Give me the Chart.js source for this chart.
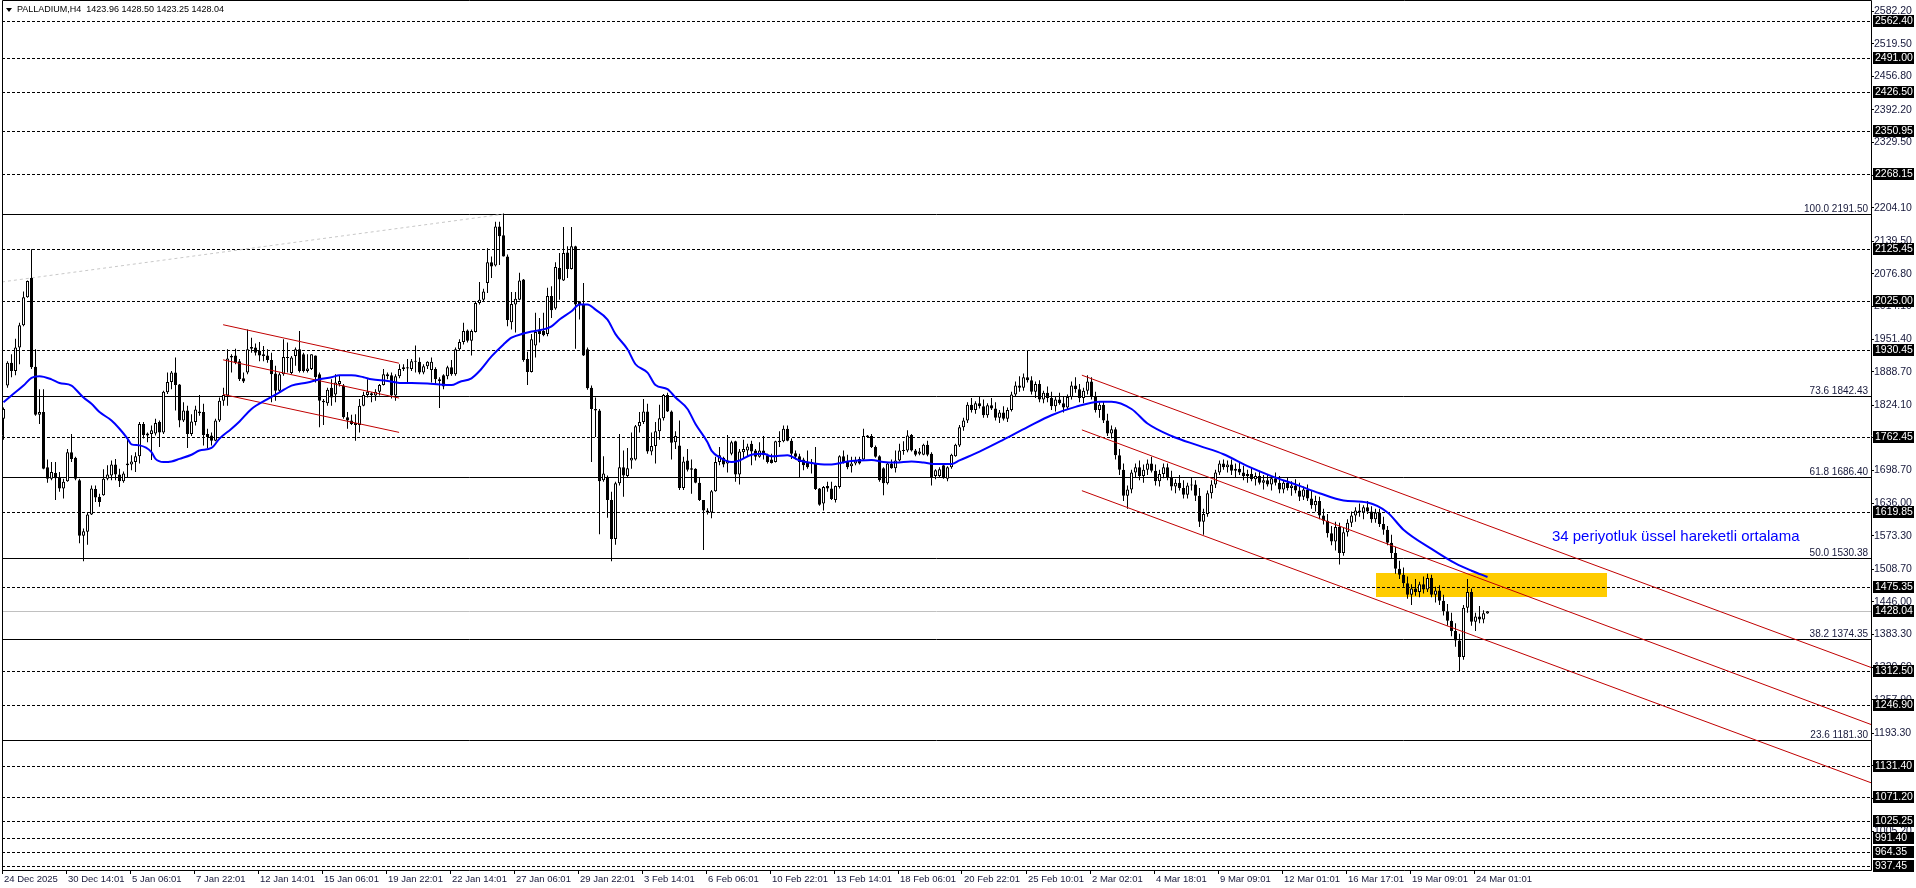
<!DOCTYPE html>
<html><head><meta charset="utf-8">
<script src="https://cdn.jsdelivr.net/npm/chart.js@4.4.1/dist/chart.umd.min.js"></script>
<style>html,body{margin:0;padding:0;background:#fff;overflow:hidden}canvas{display:block}</style>
</head><body>
<canvas id="c" width="1916" height="888"></canvas>
<script>
const title = 'PALLADIUM,H4  1423.96 1428.50 1423.25 1428.04';
const opens = [
1798,1862,1906,1890,1935,1978,2032,2069,1898,1806,
1811,1705,1683,1694,1686,1664,1678,1734,1723,1680,
1573,1581,1614,1663,1648,1651,1683,1689,1710,1691,
1678,1709,1710,1715,1726,1788,1766,1769,1770,1792,
1772,1849,1869,1887,1864,1795,1814,1769,1792,1812,
1811,1769,1766,1756,1795,1833,1843,1919,1920,1909,
1876,1887,1936,1935,1929,1919,1920,1911,1885,1852,
1884,1917,1886,1919,1932,1922,1890,1894,1920,1884,
1833,1828,1858,1845,1865,1862,1801,1795,1790,1786,
1823,1844,1847,1843,1850,1863,1884,1882,1843,1880,
1894,1895,1894,1908,1908,1887,1899,1892,1894,1871,
1882,1880,1897,1884,1932,1946,1968,1948,1965,2021,
2027,2059,2099,2093,2168,2151,2110,1984,2018,2027,
2066,1913,1888,1939,1970,1967,1961,2034,2010,2088,
2064,2118,2086,2130,2024,2018,1932,1858,1817,1814,
1680,1686,1642,1567,1674,1705,1688,1718,1720,1784,
1792,1812,1735,1746,1774,1799,1844,1812,1753,1747,
1665,1718,1700,1702,1675,1642,1622,1618,1659,1715,
1723,1712,1731,1755,1691,1734,1737,1750,1737,1725,
1737,1728,1720,1715,1753,1755,1779,1756,1732,1726,
1720,1715,1712,1712,1664,1635,1669,1664,1642,1667,
1726,1715,1707,1712,1721,1720,1766,1765,1744,1726,
1703,1674,1712,1703,1718,1736,1737,1767,1737,1731,
1729,1748,1731,1688,1688,1709,1683,1705,1726,1747,
1782,1795,1825,1815,1828,1822,1805,1824,1818,1800,
1810,1798,1815,1845,1862,1858,1878,1872,1850,1865,
1835,1848,1838,1822,1835,1828,1820,1840,1862,1855,
1838,1852,1870,1840,1815,1825,1795,1770,1778,1728,
1700,1650,1662,1695,1705,1688,1700,1712,1698,1678,
1692,1705,1685,1668,1675,1665,1652,1670,1672,1650,
1600,1615,1655,1672,1695,1712,1705,1710,1698,1702,
1695,1688,1692,1682,1688,1675,1680,1672,1684,1675,
1662,1675,1665,1670,1660,1648,1662,1645,1632,1640,
1612,1602,1578,1562,1590,1540,1580,1598,1612,1622,
1618,1628,1620,1605,1618,1596,1585,1560,1540,1510,
1498,1482,1460,1472,1465,1480,1470,1492,1460,1468,
1448,1428,1410,1390,1372,1340,1435,1465,1408,1418,
1412,1423.96];
const highs = [
1820,1909,1922,1952,1983,2043,2064,2124,1932,1855,
1855,1720,1715,1715,1696,1683,1740,1769,1725,1683,
1587,1619,1670,1670,1654,1701,1709,1718,1721,1702,
1697,1763,1728,1734,1792,1792,1772,1785,1798,1795,
1852,1887,1890,1916,1865,1830,1823,1807,1823,1844,
1827,1779,1772,1798,1839,1858,1932,1922,1933,1913,
1887,1970,1954,1943,1946,1938,1932,1925,1900,1887,
1951,1945,1919,1935,1967,1925,1922,1922,1920,1887,
1836,1858,1874,1884,1881,1865,1811,1806,1807,1836,
1850,1874,1849,1855,1865,1894,1887,1887,1884,1903,
1903,1913,1913,1939,1916,1903,1909,1916,1897,1878,
1884,1900,1911,1935,1951,1983,1970,1970,2024,2061,
2048,2126,2110,2177,2177,2193,2114,2042,2042,2079,
2067,1927,1961,2002,1992,2002,2050,2053,2099,2117,
2167,2130,2167,2131,2024,2059,1935,1862,1839,1817,
1726,1689,1658,1677,1769,1737,1742,1772,1786,1811,
1836,1827,1772,1792,1825,1846,1848,1814,1774,1795,
1725,1740,1720,1703,1686,1642,1626,1661,1725,1744,
1725,1767,1756,1756,1740,1758,1750,1756,1740,1753,
1765,1731,1731,1756,1774,1785,1785,1760,1737,1731,
1723,1737,1721,1744,1665,1669,1677,1677,1670,1728,
1737,1729,1725,1725,1725,1779,1767,1769,1747,1728,
1705,1715,1720,1737,1750,1755,1776,1769,1740,1742,
1750,1756,1734,1701,1705,1710,1707,1731,1750,1786,
1800,1830,1838,1832,1840,1835,1828,1838,1830,1815,
1822,1820,1850,1870,1880,1885,1930,1880,1870,1872,
1852,1860,1850,1840,1848,1842,1845,1870,1878,1865,
1858,1882,1878,1850,1830,1832,1808,1785,1782,1740,
1712,1670,1700,1712,1718,1710,1720,1725,1710,1700,
1712,1712,1698,1682,1690,1680,1675,1685,1680,1665,
1625,1660,1680,1700,1718,1720,1718,1720,1712,1715,
1708,1700,1705,1695,1698,1690,1692,1688,1695,1688,
1680,1685,1678,1682,1675,1668,1672,1660,1650,1648,
1625,1615,1592,1600,1598,1588,1605,1620,1628,1635,
1632,1640,1630,1625,1625,1610,1592,1575,1552,1525,
1512,1495,1480,1490,1485,1495,1500,1498,1475,1478,
1460,1442,1425,1405,1385,1440,1490,1472,1425,1438,
1430,1428.50];
const lows = [
1758,1858,1878,1882,1903,1976,2031,1894,1804,1788,
1701,1675,1680,1642,1658,1645,1677,1715,1680,1559,
1524,1556,1613,1638,1629,1650,1680,1680,1680,1667,
1675,1686,1699,1696,1712,1760,1753,1719,1766,1744,
1769,1846,1855,1814,1782,1792,1742,1765,1785,1804,
1747,1742,1747,1755,1792,1823,1823,1887,1903,1871,
1867,1884,1925,1920,1909,1909,1906,1830,1833,1849,
1881,1887,1884,1900,1887,1887,1887,1892,1868,1782,
1786,1823,1823,1830,1860,1798,1779,1786,1756,1772,
1822,1839,1830,1833,1843,1862,1874,1837,1833,1876,
1890,1868,1890,1887,1884,1884,1894,1868,1865,1819,
1855,1874,1881,1881,1929,1941,1945,1920,1964,2018,
2024,2040,2069,2091,2094,2110,1976,1970,1964,2026,
1908,1863,1887,1916,1945,1957,1957,1992,2008,2027,
2063,2069,2085,1933,1989,1919,1854,1715,1763,1576,
1677,1608,1524,1556,1670,1648,1686,1702,1718,1772,
1788,1731,1728,1712,1758,1795,1811,1720,1740,1661,
1661,1697,1654,1674,1640,1546,1614,1607,1658,1709,
1705,1695,1728,1677,1672,1721,1725,1709,1718,1723,
1720,1712,1712,1714,1744,1753,1755,1721,1720,1686,
1699,1702,1693,1661,1631,1622,1658,1642,1637,1664,
1712,1701,1695,1709,1710,1718,1761,1742,1723,1677,
1651,1672,1702,1695,1716,1729,1734,1735,1726,1728,
1728,1726,1670,1682,1686,1683,1678,1702,1725,1744,
1775,1790,1810,1808,1818,1800,1800,1815,1795,1790,
1795,1792,1812,1840,1850,1852,1868,1845,1838,1830,
1828,1830,1815,1812,1825,1810,1815,1835,1848,1830,
1828,1845,1835,1810,1800,1790,1765,1760,1720,1690,
1640,1625,1655,1685,1680,1675,1690,1695,1670,1668,
1684,1680,1660,1655,1660,1645,1645,1660,1640,1590,
1575,1610,1645,1665,1690,1700,1695,1690,1685,1690,
1680,1675,1678,1670,1672,1662,1668,1660,1670,1655,
1655,1660,1650,1655,1640,1642,1640,1625,1620,1605,
1595,1570,1555,1545,1518,1535,1572,1590,1600,1610,
1605,1615,1598,1598,1590,1575,1555,1530,1500,1490,
1475,1452,1440,1458,1455,1462,1465,1455,1445,1440,
1420,1400,1380,1360,1312,1335,1425,1400,1390,1405,
1405,1423.25];
const closes = [
1817,1906,1890,1935,1978,2032,2063,1897,1806,1811,
1702,1683,1696,1684,1664,1677,1734,1721,1683,1573,
1582,1614,1664,1647,1638,1683,1691,1710,1691,1678,
1693,1712,1716,1726,1788,1767,1770,1776,1790,1772,
1850,1869,1887,1863,1795,1814,1769,1793,1816,1809,
1767,1763,1756,1795,1833,1844,1914,1916,1906,1874,
1870,1932,1933,1925,1920,1922,1911,1884,1852,1884,
1917,1915,1916,1932,1890,1890,1895,1922,1878,1833,
1830,1854,1839,1868,1871,1801,1795,1788,1786,1823,
1844,1850,1844,1850,1863,1884,1880,1843,1880,1894,
1897,1897,1909,1909,1887,1899,1908,1908,1874,1874,
1860,1897,1884,1932,1946,1967,1948,1967,2021,2027,
2043,2099,2091,2168,2149,2110,1988,2019,2029,2064,
1911,1888,1951,1965,1961,1959,2034,2007,2090,2066,
2117,2086,2130,2018,2018,1920,1857,1817,1814,1678,
1693,1642,1567,1674,1705,1689,1703,1723,1784,1792,
1812,1735,1746,1774,1799,1844,1812,1752,1765,1665,
1716,1700,1703,1675,1642,1622,1618,1659,1715,1728,
1710,1718,1753,1691,1735,1740,1745,1735,1725,1737,
1728,1715,1713,1755,1756,1779,1756,1731,1725,1715,
1709,1705,1715,1663,1633,1667,1664,1644,1669,1726,
1715,1705,1712,1718,1712,1765,1763,1744,1725,1680,
1674,1712,1703,1718,1737,1737,1766,1737,1729,1735,
1748,1729,1686,1699,1701,1684,1705,1729,1748,1782,
1795,1825,1815,1828,1822,1805,1824,1818,1800,1810,
1798,1815,1845,1862,1858,1878,1872,1850,1865,1835,
1848,1838,1822,1835,1828,1820,1840,1862,1855,1838,
1852,1870,1840,1815,1825,1795,1770,1778,1728,1700,
1650,1662,1695,1705,1688,1700,1712,1698,1678,1692,
1705,1685,1668,1675,1665,1652,1670,1672,1650,1600,
1615,1655,1672,1695,1712,1705,1710,1698,1702,1695,
1688,1692,1682,1688,1675,1680,1672,1684,1675,1662,
1675,1665,1670,1660,1648,1662,1645,1632,1640,1612,
1602,1578,1562,1590,1540,1580,1598,1612,1622,1618,
1628,1620,1605,1618,1596,1585,1560,1540,1510,1498,
1482,1460,1472,1465,1480,1470,1492,1460,1468,1448,
1428,1410,1390,1372,1340,1435,1465,1408,1418,1412,
1424,1428.04];

// 34-period EMA (bar index, price)
const emaBars = [0,2,5,7,9,12,14,17,18,20,22,24,27,29,31,32,34,37,38,40,42,44,47,49,52,54,57,59,62,66,69,72,76,79,82,84,87,90,92,96,99,102,106,109,112,114,117,119,122,125,127,130,132,135,137,139,142,144,146,148,151,153,156,158,161,163,166,168,171,173,176,177,179,182,184,187,190,192,196,199,202,206,208,211,214,217,220,223,227,230,233,237,239,244,250,256,262,268,274,277,282,286,292,299,305,311,317,323,329,335,341,346,350,357,363,367,371];
const emaValues = [1830,1843,1862,1877,1880,1874,1867,1862,1855,1839,1827,1811,1795,1779,1760,1749,1747,1734,1721,1715,1716,1721,1729,1737,1742,1760,1779,1793,1817,1836,1849,1862,1868,1874,1878,1882,1882,1878,1874,1871,1867,1867,1866,1864,1863,1869,1876,1890,1918,1941,1954,1962,1966,1970,1976,1989,2005,2018,2018,2008,1989,1961,1932,1903,1887,1863,1855,1839,1817,1788,1753,1737,1724,1715,1718,1729,1731,1726,1728,1718,1713,1710,1711,1716,1718,1719,1715,1714,1716,1714,1711,1711,1718,1735,1758,1782,1805,1821,1831,1831,1817,1789,1765,1746,1730,1707,1688,1672,1655,1641,1637,1618,1585,1548,1520,1506,1494];

const xLabels = ['24 Dec 2025','30 Dec 14:01','5 Jan 06:01','7 Jan 22:01','12 Jan 14:01','15 Jan 06:01','19 Jan 22:01','22 Jan 14:01','27 Jan 06:01','29 Jan 22:01','3 Feb 14:01','6 Feb 06:01','10 Feb 22:01','13 Feb 14:01','18 Feb 06:01','20 Feb 22:01','25 Feb 10:01','2 Mar 02:01','4 Mar 18:01','9 Mar 09:01','12 Mar 01:01','16 Mar 17:01','19 Mar 09:01','24 Mar 01:01'];
const xLabelBars = [0,16,32,48,64,80,96,112,128,144,160,176,192,208,224,240,256,272,288,304,320,336,352,368];
const yTicks = [2582.20,2519.50,2456.80,2392.20,2329.50,2266.80,2204.10,2139.50,2076.80,2014.10,1951.40,1888.70,1824.10,1761.40,1698.70,1636.00,1573.30,1508.70,1446.00,1383.30,1320.60,1257.90,1193.30,1130.60,1067.90,1005.20];

const dashedLevels = [2562.40,2491.00,2426.50,2350.95,2268.15,2125.45,2025.00,1930.45,1762.45,1619.85,1475.35,1312.50,1246.90,1131.40,1071.20,1025.25,991.40,964.35,937.45];
const fibLevels = [2191.50,1842.43,1686.40,1530.38,1374.35,1181.30];
const fibRatios = ['100.0','73.6','61.8','50.0','38.2','23.6'];
const bidPrice = 1428.04;

const leftChannelBars = [54.9, 98.9];
const leftChannelUpper = [1979, 1905];
const leftChannelMiddle = [1911.5, 1838];
const leftChannelLower = [1845, 1772];
const rightChannelBars = [269.6, 466.875];
const rightChannelUpper = [1882, 1320];
const rightChannelMiddle = [1776.8, 1210.3];
const rightChannelLower = [1659.9, 1098.3];
const fibTrendBars = [-0.375, 124.9];
const fibTrendPrices = [2061.3, 2191.5];

const zoneBars = [343.1, 400.9];
const zonePrices = [1500.9, 1454.2];
const maLabel = '34 periyotluk üssel hareketli ortalama';
const maLabelBar = 387.1, maLabelPrice = 1571.5;

const barMin = -0.375, barMax = 466.875;
const priceMin = 930.5, priceMax = 2591.3;

const TXT = '#16183a';
const FONT = 'Liberation Sans, Arial, sans-serif';

const wickData = closes.map((c,i)=>({x:i, y:[Math.min(lows[i],opens[i],c), Math.max(highs[i],opens[i],c)]}));
const bodyData = closes.map((c,i)=>({x:i, y:[opens[i], c]}));
const bodyFill = closes.map((c,i)=> c >= opens[i] ? '#ffffff' : '#000000');
const seg = (xs, ys) => [{x:xs[0], y:ys[0]}, {x:xs[1], y:ys[1]}];
const lineDs = (data, color, order, dash) => ({type:'line', data, borderColor:color, borderWidth:1, pointRadius:0, borderDash:dash||[], order, tension:0});

const overlay = {
  id: 'overlay',
  beforeDatasetsDraw(chart){
    const {ctx, chartArea:a, scales:{x, y}} = chart;
    ctx.save();
    const zx0 = x.getPixelForValue(zoneBars[0]), zx1 = x.getPixelForValue(zoneBars[1]);
    const zy0 = y.getPixelForValue(zonePrices[0]), zy1 = y.getPixelForValue(zonePrices[1]);
    ctx.fillStyle = '#ffcc00';
    ctx.fillRect(Math.round(zx0), Math.round(zy0), Math.round(zx1 - zx0), Math.round(zy1 - zy0));
    ctx.lineWidth = 1;
    const hline = (v, color, dash) => {
      const py = Math.round(y.getPixelForValue(v)) + 0.5;
      ctx.strokeStyle = color; ctx.setLineDash(dash);
      ctx.beginPath(); ctx.moveTo(a.left, py); ctx.lineTo(a.right, py); ctx.stroke();
    };
    hline(bidPrice, '#c0c0c0', []);
    dashedLevels.forEach(v => hline(v, '#000000', [3,2]));
    fibLevels.forEach(v => hline(v, '#000000', []));
    ctx.restore();
  },
  afterDatasetsDraw(chart){
    const {ctx, chartArea:a, scales:{x, y}} = chart;
    ctx.save();
    ctx.font = '10px ' + FONT; ctx.fillStyle = TXT; ctx.textAlign = 'right'; ctx.textBaseline = 'bottom';
    fibLevels.forEach((v,k) => {
      const py = Math.round(y.getPixelForValue(v));
      ctx.fillText(fibRatios[k] + ' ' + v.toFixed(2), a.right - 3, py);
    });
    ctx.font = '15px ' + FONT; ctx.fillStyle = '#0000ff'; ctx.textAlign = 'left'; ctx.textBaseline = 'middle';
    ctx.fillText(maLabel, x.getPixelForValue(maLabelBar), y.getPixelForValue(maLabelPrice));
    ctx.fillStyle = '#000';
    ctx.beginPath(); ctx.moveTo(6, 8); ctx.lineTo(12, 8); ctx.lineTo(9, 12); ctx.closePath(); ctx.fill();
    ctx.font = '9px ' + FONT; ctx.textBaseline = 'middle';
    ctx.fillText(title, 17, 10);
    ctx.strokeStyle = '#000'; ctx.lineWidth = 1;
    ctx.beginPath();
    ctx.moveTo(a.left + 0.5, 0.5); ctx.lineTo(a.left + 0.5, a.bottom + 0.5);
    ctx.lineTo(a.right + 0.5, a.bottom + 0.5); ctx.lineTo(a.right + 0.5, 0.5);
    ctx.lineTo(a.left + 0.5, 0.5);
    ctx.stroke();
    ctx.restore();
  },
  afterDraw(chart){
    const {ctx, chartArea:a, scales:{y}} = chart;
    ctx.save();
    ctx.font = '10.5px ' + FONT; ctx.textAlign = 'left'; ctx.textBaseline = 'middle';
    dashedLevels.concat([bidPrice]).forEach(v => {
      const py = Math.round(y.getPixelForValue(v));
      ctx.fillStyle = '#000';
      ctx.fillRect(a.right + 2, py - 6, 41, 12);
      ctx.fillStyle = '#fff';
      ctx.fillText(v.toFixed(2), a.right + 4, py + 0.5);
    });
    ctx.restore();
  }
};

new Chart(document.getElementById('c'), {
  type: 'bar',
  data: {
    datasets: [
      {type:'line', data: emaBars.map((b,k)=>({x:b, y:emaValues[k]})), borderColor:'#0000ff', borderWidth:2, pointRadius:0, cubicInterpolationMode:'monotone', order:0},
      lineDs(seg(leftChannelBars, leftChannelUpper), '#c00000', 1),
      lineDs(seg(leftChannelBars, leftChannelMiddle), '#c00000', 1),
      lineDs(seg(leftChannelBars, leftChannelLower), '#c00000', 1),
      lineDs(seg(rightChannelBars, rightChannelUpper), '#c00000', 1),
      lineDs(seg(rightChannelBars, rightChannelMiddle), '#c00000', 1),
      lineDs(seg(rightChannelBars, rightChannelLower), '#c00000', 1),
      {type:'bar', data: bodyData, backgroundColor: bodyFill, borderColor:'#000', borderWidth:1, borderSkipped:false, barThickness:3, grouped:false, minBarLength:1, inflateAmount:0, order:2},
      {type:'bar', data: wickData, backgroundColor:'#000', borderWidth:0, barThickness:1, grouped:false, inflateAmount:0, order:3},
      lineDs(seg(fibTrendBars, fibTrendPrices), '#c8c8c8', 4, [3,3])
    ]
  },
  options: {
    responsive: false,
    devicePixelRatio: 1,
    animation: false,
    events: [],
    layout: {padding: {left:2, top:2, right:0, bottom:0}},
    plugins: {legend:{display:false}, tooltip:{enabled:false}},
    scales: {
      x: {
        type:'linear', position:'bottom', min: barMin, max: barMax, offset:false,
        afterFit(s){ s.height = 18; },
        afterBuildTicks(s){ s.ticks = xLabelBars.map(b => ({value: b - 0.375})); },
        grid: {drawOnChartArea:false, drawTicks:true, tickLength:4, color:'#000', offset:false},
        border: {display:false},
        ticks: {autoSkip:false, maxRotation:0, minRotation:0, align:'start', padding:0, labelOffset:2, color:TXT, font:{family:FONT, size:9.5},
          callback(v, i){ return xLabels[i]; }}
      },
      y: {
        type:'linear', position:'right', min: priceMin, max: priceMax,
        afterFit(s){ s.width = 45; },
        afterBuildTicks(s){ s.ticks = yTicks.map(v => ({value: v})); },
        grid: {drawOnChartArea:false, drawTicks:true, tickLength:3, color:'#000'},
        border: {display:false},
        ticks: {autoSkip:false, padding:0, color:TXT, font:{family:FONT, size:10.5},
          callback(v){ return Number(v).toFixed(2); }}
      }
    }
  },
  plugins: [overlay]
});
</script>
</body></html>
